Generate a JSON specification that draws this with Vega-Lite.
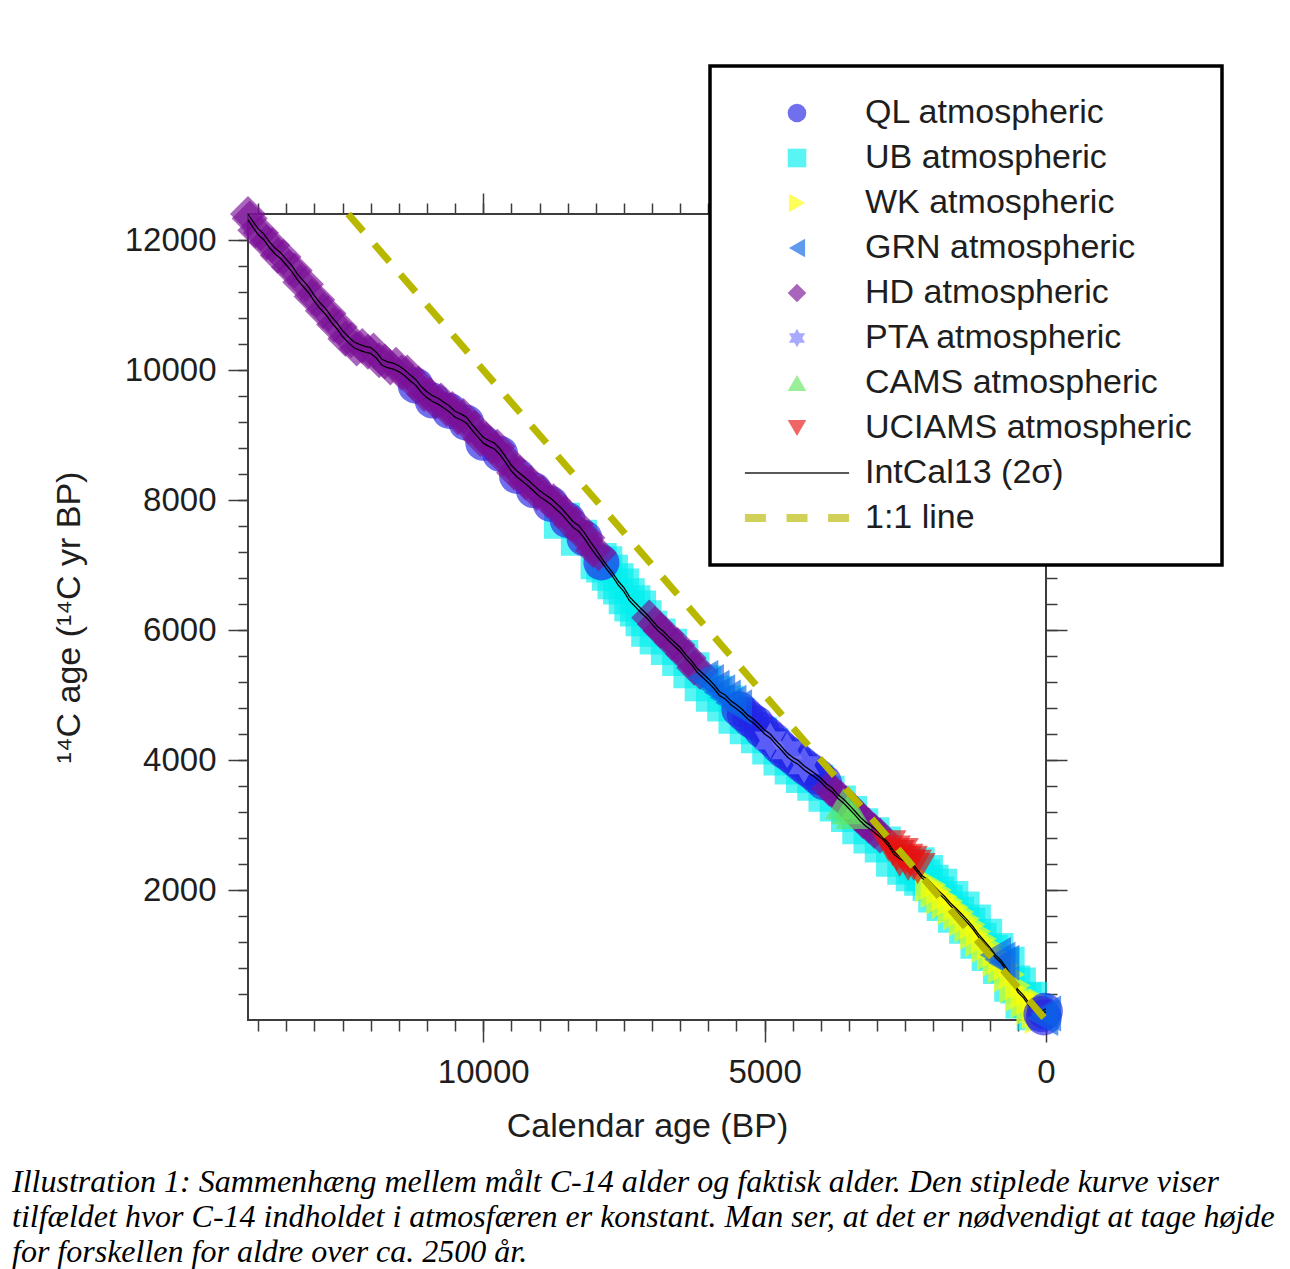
{
  "$schema": "https://vega.github.io/schema/vega-lite/v6.json",
  "width": 798,
  "height": 806,
  "autosize": {"type": "none"},
  "padding": {"left": 248, "top": 214, "right": 244, "bottom": 249},
  "background": "white",
  "config": {
    "view": {"stroke": "#3c3c3c", "strokeWidth": 2},
    "axis": {"domain": false, "grid": false, "tickColor": "#3c3c3c", "tickWidth": 1.5, "labelFont": "Liberation Sans", "labelFontSize": 33, "labelColor": "#1e1e1e", "titleFont": "Liberation Sans", "titleFontSize": 34, "titleFontWeight": "normal", "titleColor": "#1e1e1e", "labelFlush": false, "labelOverlap": false, "format": "d"},
    "legend": {"strokeWidth": 3.5}
  },
  "title": {
    "text": ["Illustration 1: Sammenhæng mellem målt C-14 alder og faktisk alder. Den stiplede kurve viser", "tilfældet hvor C-14 indholdet i atmosfæren er konstant. Man ser, at det er nødvendigt at tage højde", "for forskellen for aldre over ca. 2500 år."],
    "orient": "bottom", "anchor": "start", "frame": "group", "dx": -236, "offset": 24,
    "font": "Liberation Serif", "fontStyle": "italic", "fontWeight": "normal", "fontSize": 32, "lineHeight": 35, "color": "#000000"
  },
  "datasets": {
    "pts": [
      {"s":"UB","cal":7950,"c14":7060},{"s":"UB","cal":7850,"c14":7010},{"s":"UB","cal":7750,"c14":6880},{"s":"UB","cal":7650,"c14":6750},{"s":"UB","cal":7550,"c14":6670},{"s":"UB","cal":7450,"c14":6520},{"s":"UB","cal":7350,"c14":6410},{"s":"UB","cal":7250,"c14":6330},{"s":"UB","cal":7150,"c14":6180},{"s":"UB","cal":8600,"c14":7680},{"s":"UB","cal":8300,"c14":7420},{"s":"UB","cal":7050,"c14":6020},{"s":"UB","cal":6900,"c14":5900},{"s":"UB","cal":6700,"c14":5740},{"s":"UB","cal":6500,"c14":5570},{"s":"UB","cal":6300,"c14":5380},{"s":"UB","cal":6100,"c14":5180},{"s":"UB","cal":5900,"c14":5020},{"s":"UB","cal":5700,"c14":4870},{"s":"UB","cal":5500,"c14":4680},{"s":"UB","cal":5300,"c14":4520},{"s":"UB","cal":5100,"c14":4380},{"s":"UB","cal":4900,"c14":4210},{"s":"UB","cal":4700,"c14":4040},{"s":"UB","cal":4500,"c14":3900},{"s":"UB","cal":4300,"c14":3770},{"s":"UB","cal":4100,"c14":3650},{"s":"UB","cal":3900,"c14":3480},{"s":"UB","cal":3700,"c14":3330},{"s":"UB","cal":3500,"c14":3170},{"s":"UB","cal":3300,"c14":2980},{"s":"UB","cal":3100,"c14":2840},{"s":"UB","cal":2900,"c14":2700},{"s":"UB","cal":2700,"c14":2480},{"s":"UB","cal":2500,"c14":2360},{"s":"UB","cal":2350,"c14":2260},{"s":"UB","cal":2200,"c14":2190},{"s":"UB","cal":2050,"c14":2110},{"s":"UB","cal":1950,"c14":1930},{"s":"UB","cal":2300,"c14":2380},{"s":"UB","cal":2150,"c14":2260},{"s":"UB","cal":1900,"c14":2050},{"s":"UB","cal":1800,"c14":1800},{"s":"UB","cal":1700,"c14":1860},{"s":"UB","cal":1600,"c14":1620},{"s":"UB","cal":1500,"c14":1700},{"s":"UB","cal":1400,"c14":1450},{"s":"UB","cal":1300,"c14":1500},{"s":"UB","cal":1200,"c14":1220},{"s":"UB","cal":1100,"c14":1280},{"s":"UB","cal":1000,"c14":1030},{"s":"UB","cal":900,"c14":1060},{"s":"UB","cal":800,"c14":830},{"s":"UB","cal":700,"c14":850},{"s":"UB","cal":600,"c14":560},{"s":"UB","cal":500,"c14":530},{"s":"UB","cal":400,"c14":300},{"s":"UB","cal":300,"c14":310},{"s":"UB","cal":200,"c14":120},
      {"s":"WK","cal":2050,"c14":2080},{"s":"WK","cal":1950,"c14":2000},{"s":"WK","cal":1850,"c14":1900},{"s":"WK","cal":1750,"c14":1830},{"s":"WK","cal":1650,"c14":1740},{"s":"WK","cal":1550,"c14":1660},{"s":"WK","cal":1450,"c14":1560},{"s":"WK","cal":1350,"c14":1470},{"s":"WK","cal":1250,"c14":1360},{"s":"WK","cal":1150,"c14":1250},{"s":"WK","cal":1050,"c14":1150},{"s":"WK","cal":950,"c14":1040},{"s":"WK","cal":850,"c14":940},{"s":"WK","cal":750,"c14":840},{"s":"WK","cal":650,"c14":700},{"s":"WK","cal":550,"c14":530},{"s":"WK","cal":450,"c14":400},{"s":"WK","cal":350,"c14":300},{"s":"WK","cal":250,"c14":200},{"s":"WK","cal":150,"c14":140},{"s":"WK","cal":80,"c14":170},{"s":"WK","cal":30,"c14":220},{"s":"WK","cal":100,"c14":60},
      {"s":"QL","cal":11200,"c14":9760},{"s":"QL","cal":10900,"c14":9530},{"s":"QL","cal":10600,"c14":9370},{"s":"QL","cal":10300,"c14":9190},{"s":"QL","cal":10000,"c14":8880},{"s":"QL","cal":9700,"c14":8710},{"s":"QL","cal":9400,"c14":8370},{"s":"QL","cal":9100,"c14":8150},{"s":"QL","cal":8800,"c14":7940},{"s":"QL","cal":8500,"c14":7690},{"s":"QL","cal":8200,"c14":7410},{"s":"QL","cal":7900,"c14":7040},
      {"s":"QL","cal":5450,"c14":4780},{"s":"QL","cal":5350,"c14":4700},{"s":"QL","cal":5250,"c14":4620},{"s":"QL","cal":5150,"c14":4560},{"s":"QL","cal":5050,"c14":4460},{"s":"QL","cal":4950,"c14":4390},{"s":"QL","cal":4850,"c14":4310},{"s":"QL","cal":4750,"c14":4220},{"s":"QL","cal":4650,"c14":4140},{"s":"QL","cal":4550,"c14":4080},{"s":"QL","cal":4450,"c14":4010},{"s":"QL","cal":4350,"c14":3940},{"s":"QL","cal":4250,"c14":3870},{"s":"QL","cal":4150,"c14":3810},{"s":"QL","cal":4050,"c14":3740},{"s":"QL","cal":3950,"c14":3660},
      {"s":"QL","cal":40,"c14":40},{"s":"QL","cal":80,"c14":90},{"s":"QL","cal":20,"c14":140},
      {"s":"PTA","cal":4900,"c14":4300},{"s":"PTA","cal":4600,"c14":4150},{"s":"PTA","cal":4300,"c14":3920},
      {"s":"HD","cal":14180,"c14":12400},{"s":"HD","cal":14150,"c14":12330},{"s":"HD","cal":14050,"c14":12150},{"s":"HD","cal":13950,"c14":12110},{"s":"HD","cal":13850,"c14":11960},{"s":"HD","cal":13750,"c14":11920},{"s":"HD","cal":13650,"c14":11760},{"s":"HD","cal":13550,"c14":11740},{"s":"HD","cal":13450,"c14":11580},{"s":"HD","cal":13350,"c14":11530},{"s":"HD","cal":13250,"c14":11350},{"s":"HD","cal":13150,"c14":11320},{"s":"HD","cal":13050,"c14":11130},{"s":"HD","cal":12950,"c14":11080},{"s":"HD","cal":12850,"c14":10910},{"s":"HD","cal":12750,"c14":10870},{"s":"HD","cal":12650,"c14":10700},{"s":"HD","cal":12550,"c14":10660},{"s":"HD","cal":12450,"c14":10480},{"s":"HD","cal":12350,"c14":10460},{"s":"HD","cal":12250,"c14":10330},{"s":"HD","cal":12150,"c14":10370},{"s":"HD","cal":12050,"c14":10280},{"s":"HD","cal":11950,"c14":10300},{"s":"HD","cal":11850,"c14":10150},{"s":"HD","cal":11750,"c14":10130},{"s":"HD","cal":11650,"c14":10040},{"s":"HD","cal":11550,"c14":10080},{"s":"HD","cal":11450,"c14":9960},{"s":"HD","cal":11350,"c14":9960},{"s":"HD","cal":11250,"c14":9810},{"s":"HD","cal":11150,"c14":9790},{"s":"HD","cal":11050,"c14":9630},{"s":"HD","cal":10950,"c14":9620},{"s":"HD","cal":10850,"c14":9510},{"s":"HD","cal":10750,"c14":9530},{"s":"HD","cal":10650,"c14":9400},{"s":"HD","cal":10550,"c14":9400},{"s":"HD","cal":10450,"c14":9270},{"s":"HD","cal":10350,"c14":9290},{"s":"HD","cal":10250,"c14":9140},{"s":"HD","cal":10150,"c14":9110},{"s":"HD","cal":10050,"c14":8940},{"s":"HD","cal":9950,"c14":8930},{"s":"HD","cal":9850,"c14":8830},{"s":"HD","cal":9750,"c14":8820},{"s":"HD","cal":9650,"c14":8640},{"s":"HD","cal":9550,"c14":8600},{"s":"HD","cal":9450,"c14":8420},{"s":"HD","cal":9350,"c14":8410},{"s":"HD","cal":9250,"c14":8270},{"s":"HD","cal":9150,"c14":8260},{"s":"HD","cal":9050,"c14":8110},{"s":"HD","cal":8950,"c14":8110},{"s":"HD","cal":8850,"c14":7990},{"s":"HD","cal":8750,"c14":7980},{"s":"HD","cal":8650,"c14":7830},{"s":"HD","cal":8550,"c14":7800},{"s":"HD","cal":8450,"c14":7640},{"s":"HD","cal":8350,"c14":7630},{"s":"HD","cal":8250,"c14":7470},{"s":"HD","cal":8150,"c14":7420},{"s":"HD","cal":8050,"c14":7230},{"s":"HD","cal":7950,"c14":7180},
      {"s":"HD","cal":7050,"c14":6190},{"s":"HD","cal":6950,"c14":6090},{"s":"HD","cal":6850,"c14":5990},{"s":"HD","cal":6750,"c14":5930},{"s":"HD","cal":6650,"c14":5810},{"s":"HD","cal":6550,"c14":5770},{"s":"HD","cal":6450,"c14":5630},{"s":"HD","cal":6350,"c14":5570},{"s":"HD","cal":6250,"c14":5420},{"s":"HD","cal":6150,"c14":5360},
      {"s":"HD","cal":3850,"c14":3560},{"s":"HD","cal":3750,"c14":3490},{"s":"HD","cal":3650,"c14":3420},{"s":"HD","cal":3550,"c14":3330},{"s":"HD","cal":3450,"c14":3250},{"s":"HD","cal":3350,"c14":3150},{"s":"HD","cal":3250,"c14":3060},{"s":"HD","cal":3150,"c14":2990},{"s":"HD","cal":3050,"c14":2910},{"s":"HD","cal":2950,"c14":2840},
      {"s":"GRN","cal":6100,"c14":5260},{"s":"GRN","cal":6000,"c14":5200},{"s":"GRN","cal":5900,"c14":5110},{"s":"GRN","cal":5800,"c14":5040},{"s":"GRN","cal":5700,"c14":4960},{"s":"GRN","cal":5600,"c14":4880},{"s":"GRN","cal":5500,"c14":4810},{"s":"GRN","cal":900,"c14":1000},{"s":"GRN","cal":820,"c14":930},{"s":"GRN","cal":750,"c14":880},{"s":"GRN","cal":60,"c14":30},{"s":"GRN","cal":10,"c14":100},
      {"s":"CAMS","cal":3600,"c14":3330},{"s":"CAMS","cal":3500,"c14":3250},{"s":"CAMS","cal":3420,"c14":3180},
      {"s":"UCIAMS","cal":2800,"c14":2680},{"s":"UCIAMS","cal":2720,"c14":2600},{"s":"UCIAMS","cal":2650,"c14":2530},{"s":"UCIAMS","cal":2580,"c14":2560},{"s":"UCIAMS","cal":2500,"c14":2470},{"s":"UCIAMS","cal":2420,"c14":2440},{"s":"UCIAMS","cal":2350,"c14":2380},{"s":"UCIAMS","cal":2280,"c14":2330},{"s":"UCIAMS","cal":2600,"c14":2440},{"s":"UCIAMS","cal":2450,"c14":2380}
    ],
    "intcal": [
      {"cal":14180,"lo":12310,"hi":12400},{"cal":14100,"lo":12205,"hi":12295},{"cal":14000,"lo":12085,"hi":12175},{"cal":13900,"lo":12005,"hi":12095},{"cal":13800,"lo":11885,"hi":11975},{"cal":13700,"lo":11785,"hi":11875},{"cal":13600,"lo":11715,"hi":11805},{"cal":13500,"lo":11615,"hi":11705},{"cal":13400,"lo":11515,"hi":11605},{"cal":13300,"lo":11385,"hi":11475},{"cal":13200,"lo":11285,"hi":11375},{"cal":13100,"lo":11185,"hi":11275},{"cal":13000,"lo":11055,"hi":11145},{"cal":12900,"lo":10945,"hi":11035},{"cal":12800,"lo":10855,"hi":10945},{"cal":12700,"lo":10735,"hi":10825},{"cal":12600,"lo":10635,"hi":10725},{"cal":12500,"lo":10515,"hi":10605},{"cal":12400,"lo":10425,"hi":10515},{"cal":12300,"lo":10345,"hi":10435},{"cal":12200,"lo":10305,"hi":10395},{"cal":12100,"lo":10275,"hi":10365},{"cal":12000,"lo":10255,"hi":10345},{"cal":11900,"lo":10185,"hi":10275},{"cal":11800,"lo":10075,"hi":10165},{"cal":11700,"lo":10035,"hi":10125},{"cal":11600,"lo":10015,"hi":10105},{"cal":11500,"lo":9975,"hi":10065},{"cal":11400,"lo":9915,"hi":10005},{"cal":11300,"lo":9835,"hi":9925},{"cal":11200,"lo":9765,"hi":9855},{"cal":11100,"lo":9655,"hi":9745},{"cal":11000,"lo":9575,"hi":9665},{"cal":10900,"lo":9515,"hi":9605},{"cal":10800,"lo":9475,"hi":9565},{"cal":10700,"lo":9415,"hi":9505},{"cal":10600,"lo":9355,"hi":9445},{"cal":10500,"lo":9275,"hi":9365},{"cal":10400,"lo":9235,"hi":9325},{"cal":10300,"lo":9185,"hi":9275},{"cal":10200,"lo":9075,"hi":9165},{"cal":10100,"lo":8975,"hi":9065},{"cal":10000,"lo":8875,"hi":8965},{"cal":9900,"lo":8825,"hi":8915},{"cal":9800,"lo":8785,"hi":8875},{"cal":9700,"lo":8695,"hi":8785},{"cal":9600,"lo":8575,"hi":8665},{"cal":9500,"lo":8445,"hi":8535},{"cal":9400,"lo":8355,"hi":8445},{"cal":9300,"lo":8285,"hi":8375},{"cal":9200,"lo":8215,"hi":8305},{"cal":9100,"lo":8135,"hi":8225},{"cal":9000,"lo":8055,"hi":8145},{"cal":8900,"lo":7995,"hi":8085},{"cal":8800,"lo":7935,"hi":8025},{"cal":8700,"lo":7855,"hi":7945},{"cal":8600,"lo":7775,"hi":7865},{"cal":8500,"lo":7675,"hi":7765},{"cal":8400,"lo":7575,"hi":7665},{"cal":8300,"lo":7515,"hi":7605},{"cal":8200,"lo":7405,"hi":7495},{"cal":8100,"lo":7275,"hi":7365},{"cal":8000,"lo":7155,"hi":7245},
      {"cal":7900,"lo":7050,"hi":7110},{"cal":7800,"lo":6930,"hi":6990},{"cal":7700,"lo":6820,"hi":6880},{"cal":7600,"lo":6690,"hi":6750},{"cal":7500,"lo":6590,"hi":6650},{"cal":7400,"lo":6450,"hi":6510},{"cal":7300,"lo":6360,"hi":6420},{"cal":7200,"lo":6270,"hi":6330},{"cal":7100,"lo":6190,"hi":6250},{"cal":7000,"lo":6090,"hi":6150},{"cal":6900,"lo":5990,"hi":6050},{"cal":6800,"lo":5920,"hi":5980},{"cal":6700,"lo":5830,"hi":5890},{"cal":6600,"lo":5750,"hi":5810},{"cal":6500,"lo":5670,"hi":5730},{"cal":6400,"lo":5560,"hi":5620},{"cal":6300,"lo":5470,"hi":5530},{"cal":6200,"lo":5350,"hi":5410},{"cal":6100,"lo":5270,"hi":5330},{"cal":6000,"lo":5190,"hi":5250},{"cal":5900,"lo":5100,"hi":5160},{"cal":5800,"lo":4990,"hi":5050},{"cal":5700,"lo":4940,"hi":5000},{"cal":5600,"lo":4850,"hi":4910},{"cal":5500,"lo":4790,"hi":4850},{"cal":5400,"lo":4720,"hi":4780},{"cal":5300,"lo":4630,"hi":4690},{"cal":5200,"lo":4570,"hi":4630},{"cal":5100,"lo":4490,"hi":4550},{"cal":5000,"lo":4400,"hi":4460},{"cal":4900,"lo":4340,"hi":4400},{"cal":4800,"lo":4240,"hi":4300},{"cal":4700,"lo":4150,"hi":4210},{"cal":4600,"lo":4050,"hi":4110},{"cal":4500,"lo":3980,"hi":4040},{"cal":4400,"lo":3930,"hi":3990},{"cal":4300,"lo":3850,"hi":3910},{"cal":4200,"lo":3790,"hi":3850},{"cal":4100,"lo":3730,"hi":3790},{"cal":4000,"lo":3660,"hi":3720},{"cal":3900,"lo":3570,"hi":3630},{"cal":3800,"lo":3510,"hi":3570},{"cal":3700,"lo":3410,"hi":3470},{"cal":3600,"lo":3340,"hi":3400},{"cal":3500,"lo":3250,"hi":3310},{"cal":3400,"lo":3160,"hi":3220},{"cal":3300,"lo":3060,"hi":3120},{"cal":3200,"lo":2980,"hi":3040},{"cal":3100,"lo":2920,"hi":2980},{"cal":3000,"lo":2850,"hi":2910},
      {"cal":2900,"lo":2780,"hi":2820},{"cal":2800,"lo":2680,"hi":2720},{"cal":2700,"lo":2550,"hi":2590},{"cal":2600,"lo":2480,"hi":2520},{"cal":2500,"lo":2440,"hi":2480},{"cal":2400,"lo":2400,"hi":2440},{"cal":2300,"lo":2290,"hi":2330},{"cal":2200,"lo":2180,"hi":2220},{"cal":2100,"lo":2120,"hi":2160},{"cal":2000,"lo":2030,"hi":2070},{"cal":1900,"lo":1940,"hi":1980},{"cal":1800,"lo":1860,"hi":1900},{"cal":1700,"lo":1760,"hi":1800},{"cal":1600,"lo":1680,"hi":1720},{"cal":1500,"lo":1590,"hi":1630},{"cal":1400,"lo":1500,"hi":1540},{"cal":1300,"lo":1400,"hi":1440},{"cal":1200,"lo":1280,"hi":1320},{"cal":1100,"lo":1180,"hi":1220},{"cal":1000,"lo":1080,"hi":1120},{"cal":900,"lo":960,"hi":1000},{"cal":800,"lo":880,"hi":920},{"cal":700,"lo":760,"hi":800},{"cal":600,"lo":600,"hi":640},{"cal":500,"lo":430,"hi":470},{"cal":400,"lo":340,"hi":380},{"cal":300,"lo":220,"hi":260},{"cal":200,"lo":150,"hi":190},{"cal":100,"lo":90,"hi":130},{"cal":0,"lo":130,"hi":170}
    ],
    "one": [{"cal":0,"c14":0},{"cal":12400,"c14":12400}]
  },
  "layer": [
    {
      "data": {"name": "pts"},
      "mark": {"type": "point", "filled": true, "size": 1300, "strokeWidth": 0},
      "encoding": {
        "x": {"field": "cal", "type": "quantitative", "scale": {"domain": [0, 14180], "reverse": true, "nice": false, "zero": false},
              "axis": {"orient": "bottom", "values": [0, 5000, 10000], "tickSize": 22, "labelPadding": 14, "title": "Calendar age (BP)", "titlePadding": 20}},
        "y": {"field": "c14", "type": "quantitative", "scale": {"domain": [0, 12400], "nice": false, "zero": false},
              "axis": {"orient": "left", "values": [2000, 4000, 6000, 8000, 10000, 12000], "tickSize": 20, "labelPadding": 12, "title": "¹⁴C age (¹⁴C yr BP)", "titlePadding": 38}},
        "color": {
          "field": "s", "type": "nominal",
          "scale": {"domain": ["QL","UB","WK","GRN","HD","PTA","CAMS","UCIAMS","IntCal13 (2σ)","1:1 line"],
                    "range": ["#2323e6","#00eeee","#ffff00","#0a64e6","#7b1196","#7b7bff","#61e661","#e61111","#000000","#b8b800"]},
          "legend": {"title": null, "orient": "none", "legendX": 462, "legendY": -148, "padding": 30, "symbolOffset": 40, "labelOffset": 51, "rowPadding": 11,
                     "labelFont": "Liberation Sans", "labelFontSize": 34, "labelColor": "#1e1e1e", "labelLimit": 600, "symbolSize": 346, "symbolStrokeWidth": 0,
                     "strokeColor": "#000000", "fillColor": "#ffffff", "zindex": 2,
                     "labelExpr": "datum.label === 'IntCal13 (2σ)' || datum.label === '1:1 line' ? datum.label : datum.label + ' atmospheric'"}
        },
        "shape": {
          "field": "s", "type": "nominal",
          "scale": {"domain": ["QL","UB","WK","GRN","HD","PTA","CAMS","UCIAMS","IntCal13 (2σ)","1:1 line"],
                    "range": ["circle","square","triangle-right","triangle-left","diamond","M0,-1L0.866,0.5L-0.866,0.5Z M0,1L-0.866,-0.5L0.866,-0.5Z","triangle-up","triangle-down","M-5.6,-0.1H5.6V0.1H-5.6Z","M-5.6,-0.43H-3.34V0.43H-5.6Z M-1.13,-0.43H1.13V0.43H-1.13Z M3.34,-0.43H5.6V0.43H3.34Z"]},
          "legend": {"title": null, "orient": "none", "legendX": 462, "legendY": -148, "padding": 30, "symbolOffset": 40, "labelOffset": 51, "rowPadding": 11,
                     "labelFont": "Liberation Sans", "labelFontSize": 34, "labelColor": "#1e1e1e", "labelLimit": 600, "symbolSize": 346, "symbolStrokeWidth": 0,
                     "strokeColor": "#000000", "fillColor": "#ffffff", "zindex": 2,
                     "labelExpr": "datum.label === 'IntCal13 (2σ)' || datum.label === '1:1 line' ? datum.label : datum.label + ' atmospheric'"}
        },
        "opacity": {
          "field": "s", "type": "nominal",
          "scale": {"domain": ["QL","UB","WK","GRN","HD","PTA","CAMS","UCIAMS","IntCal13 (2σ)","1:1 line"],
                    "range": [0.65,0.65,0.65,0.65,0.65,0.65,0.65,0.65,0.8,1]},
          "legend": {"title": null, "orient": "none", "legendX": 462, "legendY": -148, "padding": 30, "symbolOffset": 40, "labelOffset": 51, "rowPadding": 11,
                     "labelFont": "Liberation Sans", "labelFontSize": 34, "labelColor": "#1e1e1e", "labelLimit": 600, "symbolSize": 346, "symbolStrokeWidth": 0,
                     "strokeColor": "#000000", "fillColor": "#ffffff", "zindex": 2,
                     "labelExpr": "datum.label === 'IntCal13 (2σ)' || datum.label === '1:1 line' ? datum.label : datum.label + ' atmospheric'"}
        }
      }
    },
    {
      "data": {"name": "intcal"},
      "transform": [{"fold": ["lo", "hi"], "as": ["bound", "c14"]}],
      "mark": {"type": "line", "color": "#000000", "strokeWidth": 1.3},
      "encoding": {
        "x": {"field": "cal", "type": "quantitative", "scale": {"domain": [0, 14180], "reverse": true, "nice": false, "zero": false},
              "axis": {"orient": "bottom", "values": [0,500,1000,1500,2000,2500,3000,3500,4000,4500,5000,5500,6000,6500,7000,7500,8000,8500,9000,9500,10000,10500,11000,11500,12000,12500,13000,13500,14000], "tickSize": 11, "labels": false, "title": null}},
        "y": {"field": "c14", "type": "quantitative", "scale": {"domain": [0, 12400], "nice": false, "zero": false},
              "axis": {"orient": "left", "values": [400,800,1200,1600,2000,2400,2800,3200,3600,4000,4400,4800,5200,5600,6000,6400,6800,7200,7600,8000,8400,8800,9200,9600,10000,10400,10800,11200,11600,12000], "tickSize": 10, "labels": false, "title": null}},
        "detail": {"field": "bound", "type": "nominal"}
      }
    },
    {
      "data": {"name": "one"},
      "mark": {"type": "line", "color": "#b8b800", "strokeWidth": 7, "strokeDash": [23, 17], "strokeCap": "butt"},
      "encoding": {
        "x": {"field": "cal", "type": "quantitative", "scale": {"domain": [0, 14180], "reverse": true, "nice": false, "zero": false},
              "axis": {"orient": "top", "values": [5000, 10000], "tickSize": 21, "labels": false, "title": null}},
        "y": {"field": "c14", "type": "quantitative", "scale": {"domain": [0, 12400], "nice": false, "zero": false},
              "axis": {"orient": "right", "values": [2000, 4000, 6000, 8000, 10000, 12000], "tickSize": 21, "labels": false, "title": null}}
      }
    },
    {
      "data": {"name": "one"},
      "mark": {"type": "point", "opacity": 0},
      "encoding": {
        "x": {"field": "cal", "type": "quantitative", "scale": {"domain": [0, 14180], "reverse": true, "nice": false, "zero": false},
              "axis": {"orient": "top", "values": [0,500,1000,1500,2000,2500,3000,3500,4000,4500,5000,5500,6000,6500,7000,7500,8000,8500,9000,9500,10000,10500,11000,11500,12000,12500,13000,13500,14000], "tickSize": 11, "labels": false, "title": null}},
        "y": {"field": "c14", "type": "quantitative", "scale": {"domain": [0, 12400], "nice": false, "zero": false},
              "axis": {"orient": "right", "values": [400,800,1200,1600,2000,2400,2800,3200,3600,4000,4400,4800,5200,5600,6000,6400,6800,7200,7600,8000,8400,8800,9200,9600,10000,10400,10800,11200,11600,12000], "tickSize": 11, "labels": false, "title": null}}
      }
    }
  ],
  "resolve": {"axis": {"x": "independent", "y": "independent"}}
}
